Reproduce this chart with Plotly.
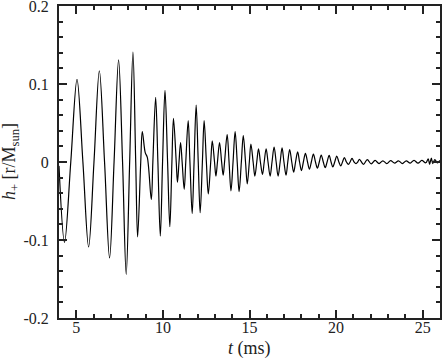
import plotly.graph_objects as go

# points of the h+ waveform (peaks, troughs and zero crossings)
# t in ms, h+ in r/Msun
t_ms = [4.00, 4.32, 4.68, 5.04, 5.38, 5.71, 6.02, 6.33, 6.63, 6.92,
        7.18, 7.44, 7.67, 7.88, 8.08, 8.27, 8.43, 8.54, 8.72, 8.81,
        8.98, 9.10, 9.33, 9.42, 9.58, 9.71, 9.85, 9.98, 10.12, 10.27,
        10.40, 10.52, 10.61, 10.77, 10.84, 10.93, 11.02, 11.11, 11.23, 11.32,
        11.46, 11.56, 11.69, 11.80, 11.92, 12.04, 12.15, 12.28, 12.38, 12.51,
        12.62, 12.76, 12.85, 12.98, 13.06, 13.15, 13.27, 13.39, 13.48, 13.56,
        13.71, 13.82, 13.93, 14.05, 14.17, 14.29, 14.40, 14.53, 14.64, 14.77,
        14.87, 14.99, 15.08, 15.21, 15.31, 15.42, 15.52, 15.63, 15.75, 15.85,
        15.96, 16.07, 16.19, 16.30, 16.42, 16.54, 16.65, 16.77, 16.88, 16.99,
        17.11, 17.21, 17.32, 17.44, 17.55, 17.66, 17.78, 17.89, 18.00, 18.11,
        18.23, 18.35, 18.46, 18.57, 18.69, 18.81, 18.92, 19.03, 19.14, 19.26,
        19.37, 19.48, 19.60, 19.71, 19.81, 19.92, 20.04, 20.16, 20.27, 20.37,
        20.48, 20.60, 20.71, 20.81, 20.92, 21.04, 21.15, 21.25, 21.35, 21.58,
        21.80, 22.03, 22.25, 22.48, 22.70, 22.93, 23.15, 23.38, 23.60, 23.83,
        24.05, 24.28, 24.50, 24.73, 24.95, 25.18, 25.32, 25.40, 25.50, 25.58,
        25.70, 25.85, 26.00]
h_plus = [-0.005, -0.103, 0, 0.106, 0, -0.109, 0, 0.117, 0, -0.123,
          0, 0.131, 0, -0.144, 0, 0.141, 0, -0.096, 0, 0.039,
          0.012, 0.006, -0.048, 0, 0.083, 0, -0.095, 0, 0.092, 0,
          -0.083, 0, 0.056, 0, -0.026, 0, 0.025, 0, -0.035, 0,
          0.053, 0, -0.066, 0, 0.073, 0, -0.065, 0, 0.053, 0,
          -0.041, 0, 0.027, 0, -0.018, 0, 0.025, 0, -0.017, 0,
          0.035, 0, -0.037, 0, 0.039, 0, -0.038, 0, 0.034, 0,
          -0.028, 0, 0.023, 0, -0.018, 0, 0.017, 0, -0.016, 0,
          0.017, 0, -0.018, 0, 0.019, 0, -0.018, 0, 0.018, 0,
          -0.017, 0, 0.016, 0, -0.013, 0, 0.013, 0, -0.011, 0,
          0.011, 0, -0.0093, 0, 0.010, 0, -0.008, 0, 0.009, 0,
          -0.0072, 0, 0.0085, 0, -0.0064, 0, 0.0076, 0, -0.005, 0,
          0.0055, 0, -0.003, 0, 0.0047, 0, -0.002, 0, 0.0034, -0.003,
          0.003, -0.0025, 0.002, -0.002, 0.0015, -0.002, 0.0018, -0.0015, 0.0015, -0.002,
          0.0015, -0.0015, 0.0022, -0.0015, 0.002, -0.001, 0.004, -0.003, 0.005, -0.002,
          0.003, -0.001, 0.002]

y_tickvals = [-0.2, -0.1, 0, 0.1, 0.2]
y_ticktext = ["-0.2", "-0.1", "0", "0.1", "0.2"]
x_tickvals = [5, 10, 15, 20, 25]

axis_col = "#222222"
font = dict(family="Liberation Serif", size=16, color="#222222")
title_font = dict(family="Liberation Serif", size=18, color="#222222")

fig = go.Figure()
fig.add_trace(go.Scatter(x=t_ms, y=h_plus, mode="lines",
                         line=dict(color="black", width=1.2, shape="spline", smoothing=1.0),
                         showlegend=False))

common = dict(showline=True, linecolor=axis_col, linewidth=2, mirror="allticks",
              ticks="inside", ticklen=8, tickwidth=1.5, tickcolor=axis_col,
              showgrid=False, zeroline=False, tickfont=font, automargin=False,
              ticklabeloverflow="allow")

fig.update_xaxes(range=[4, 26], tickvals=x_tickvals, ticklabelstandoff=-6,
                 minor=dict(dtick=1, ticks="inside", ticklen=4, tickwidth=1.5, tickcolor=axis_col),
                 **common)
fig.update_yaxes(range=[-0.2, 0.2], tickvals=y_tickvals, ticktext=y_ticktext, ticklabelstandoff=5,
                 minor=dict(dtick=0.02, ticks="inside", ticklen=4, tickwidth=1.5, tickcolor=axis_col),
                 **common)

# axis titles as annotations so they sit where the reference has them
fig.add_annotation(text="<i>t</i> (ms)", xref="paper", yref="paper", x=0.5, y=0,
                   yanchor="middle", yshift=-30, showarrow=False, font=title_font)
fig.add_annotation(text="<i>h</i><sub>+</sub> [r/M<sub>sun</sub>]", xref="paper", yref="paper",
                   x=0, y=0.5, xanchor="center", xshift=-49, textangle=-90,
                   showarrow=False, font=title_font)

fig.update_layout(width=442, height=360, margin=dict(l=59, r=2, t=6, b=42),
                  plot_bgcolor="white", paper_bgcolor="white", font=font)

fig.write_html("out.html", config={"displayModeBar": False},
               post_script="document.body.style.margin='0';")
